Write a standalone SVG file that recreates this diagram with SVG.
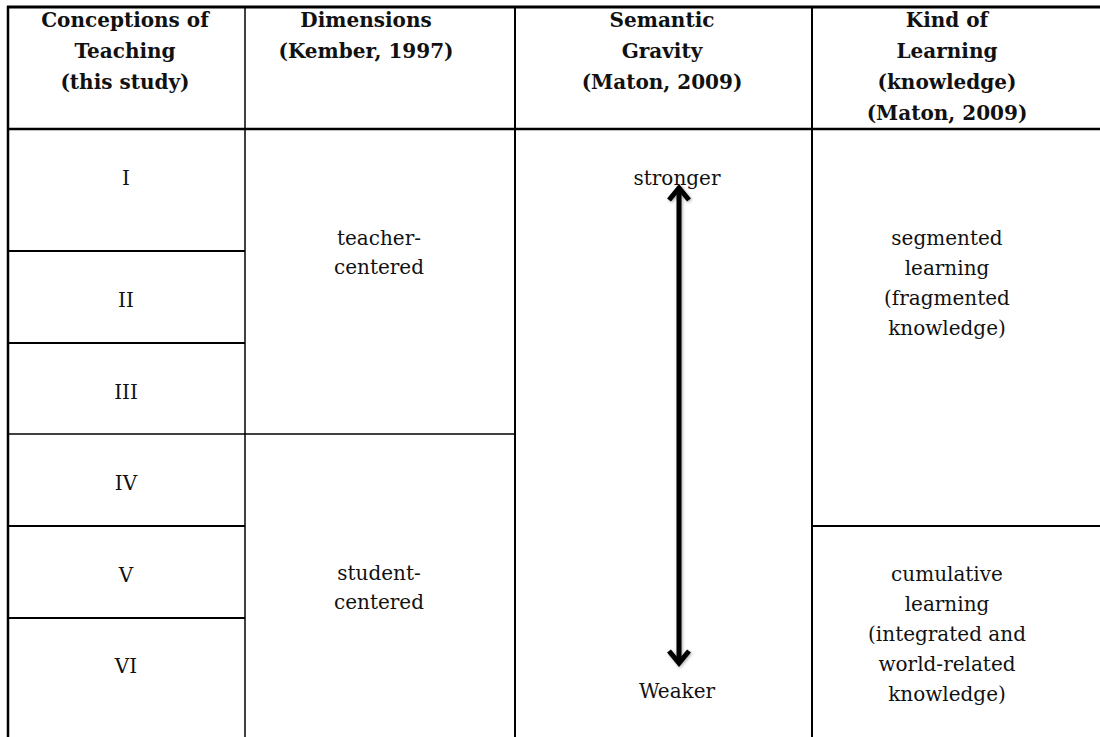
<svg xmlns="http://www.w3.org/2000/svg" width="1100" height="737" viewBox="0 0 1100 737">
<style>
  .grid line { stroke: #000; stroke-width: 2; }
  .grid .thin { stroke-width: 1.5; }
  .h { font-family: "DejaVu Serif", "Liberation Serif", serif; font-weight: bold; font-size: 20px; fill: #111; text-anchor: middle; }
  .b { font-family: "DejaVu Serif", "Liberation Serif", serif; font-size: 20px; fill: #111; text-anchor: middle; }
  .arrow { stroke: #000; stroke-width: 5; fill: none; stroke-linecap: butt; stroke-linejoin: miter; }
</style>
<defs>
  <filter id="shadow" x="-50%" y="-10%" width="200%" height="120%">
    <feDropShadow dx="1" dy="1" stdDeviation="1.5" flood-color="#000" flood-opacity="0.35"/>
  </filter>
</defs>
<rect width="1100" height="737" fill="#fff"/>
<g class="grid" id="table-lines">
  <line x1="7" y1="7" x2="1100" y2="7" style="stroke-width:3"/>
  <line x1="8" y1="6" x2="8" y2="737" style="stroke-width:2.5"/>
  <line class="thin" x1="245" y1="7" x2="245" y2="737"/>
  <line x1="515" y1="7" x2="515" y2="737"/>
  <line x1="812" y1="7" x2="812" y2="737"/>
  <line x1="8" y1="129" x2="1100" y2="129" style="stroke-width:2.5"/>
  <line x1="8" y1="251" x2="245" y2="251"/>
  <line x1="8" y1="343" x2="245" y2="343"/>
  <line class="thin" x1="8" y1="434" x2="515" y2="434"/>
  <line x1="8" y1="526" x2="245" y2="526"/>
  <line x1="8" y1="618" x2="245" y2="618"/>
  <line x1="812" y1="526" x2="1100" y2="526"/>
</g>
<g id="header-conceptions">
  <text class="h" x="125" y="27">Conceptions of<tspan x="125" dy="31">Teaching</tspan><tspan x="125" dy="31">(this study)</tspan></text>
</g>
<g id="header-dimensions">
  <text class="h" x="366" y="27">Dimensions<tspan x="366" dy="31">(Kember, 1997)</tspan></text>
</g>
<g id="header-gravity">
  <text class="h" x="662" y="27">Semantic<tspan x="662" dy="31">Gravity</tspan><tspan x="662" dy="31">(Maton, 2009)</tspan></text>
</g>
<g id="header-learning">
  <text class="h" x="947" y="27">Kind of<tspan x="947" dy="31">Learning</tspan><tspan x="947" dy="31">(knowledge)</tspan><tspan x="947" dy="31">(Maton, 2009)</tspan></text>
</g>
<g id="row-I"><text class="b" x="126" y="185">I</text></g>
<g id="row-II"><text class="b" x="126" y="307">II</text></g>
<g id="row-III"><text class="b" x="126" y="399">III</text></g>
<g id="row-IV"><text class="b" x="126" y="490">IV</text></g>
<g id="row-V"><text class="b" x="126" y="582">V</text></g>
<g id="row-VI"><text class="b" x="126" y="673">VI</text></g>
<g id="teacher-centered">
  <text class="b" x="379" y="245">teacher-<tspan x="379" dy="29">centered</tspan></text>
</g>
<g id="student-centered">
  <text class="b" x="379" y="580">student-<tspan x="379" dy="29">centered</tspan></text>
</g>
<g id="stronger"><text class="b" x="677" y="185">stronger</text></g>
<g id="weaker"><text class="b" x="677" y="698">Weaker</text></g>
<g id="segmented">
  <text class="b" x="947" y="245">segmented<tspan x="947" dy="30">learning</tspan><tspan x="947" dy="30">(fragmented</tspan><tspan x="947" dy="30">knowledge)</tspan></text>
</g>
<g id="cumulative">
  <text class="b" x="947" y="581">cumulative<tspan x="947" dy="30">learning</tspan><tspan x="947" dy="30">(integrated and</tspan><tspan x="947" dy="30">world-related</tspan><tspan x="947" dy="30">knowledge)</tspan></text>
</g>
<g id="connectors" filter="url(#shadow)">
  <line class="arrow" x1="679" y1="190" x2="679" y2="661"/>
  <polyline class="arrow" points="669,200 679,188 689,200"/>
  <polyline class="arrow" points="669,651 679,663 689,651"/>
</g>
</svg>
